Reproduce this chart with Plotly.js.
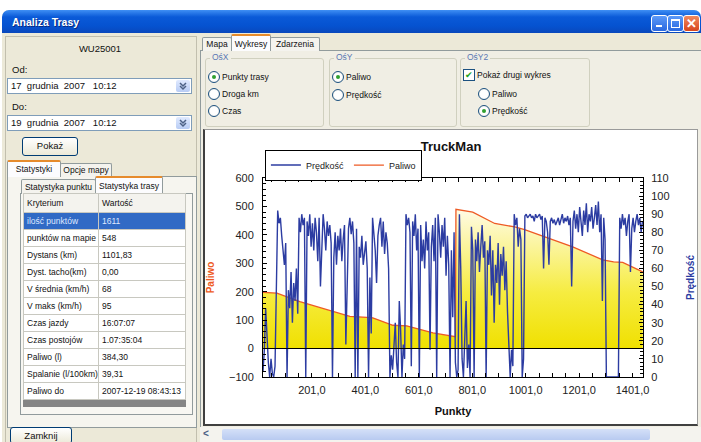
<!DOCTYPE html>
<html><head><meta charset="utf-8">
<script src="https://cdn.plot.ly/plotly-3.0.1.min.js"></script>
<style>
body{margin:0;width:701px;height:442px;overflow:hidden;background:#fff;font-family:"Liberation Sans",Arial,sans-serif;font-size:9.5px;color:#111;position:relative}
.a{position:absolute;white-space:nowrap}
#win{left:2px;top:10px;width:699px;height:432px;background:#ece9d8;border-radius:7px 7px 0 0;overflow:hidden}
#tb{left:2px;top:10px;width:699px;height:23px;border-radius:7px 7px 0 0;background:linear-gradient(#3f8ff4,#0a5ad8 30%,#0552d0 70%,#0a48bc)}
#tt{left:12px;top:16px;color:#fff;font-weight:bold;font-size:10.5px;text-shadow:1px 1px #0a2a80}
.wb{top:15px;width:15px;height:15px;border:1px solid #fff;border-radius:3px;background:linear-gradient(#5c9af8,#2a68e0)}
.combo{height:14px;background:#fff;border:1px solid #7f9db9}
.dd{top:1px;right:1px;width:14px;height:12px;background:linear-gradient(#e0eaff,#b8ccf4);border-radius:2px}
.btn{border:1px solid #003c74;border-radius:3px;background:linear-gradient(#ffffff,#ece9d8);text-align:center;line-height:16px}
.tab{border:1px solid #919b9c;border-bottom:none;background:#f4f3ee;text-align:center;border-radius:2px 2px 0 0;font-size:8.5px}
.sel{background:#fcfcfe;border-top:2px solid #e68b2c}
.grp{border:1px solid #d0d0bf;border-radius:3px}
.gl{color:#5a78b4;background:#f0eee4;padding:0 2px;font-size:8.5px}
.rt{font-size:8.5px}
.rad{width:10px;height:10px;border:1px solid #1c5180;border-radius:50%;background:radial-gradient(#fff 50%,#dcdcd4)}
.rad.on::after{content:"";position:absolute;left:3px;top:3px;width:4px;height:4px;border-radius:50%;background:#30a030}
table{border-collapse:collapse;font-size:8.5px}
td{border:1px solid #c8c8c0;height:16px;padding:0 0 0 3px;background:#fff;white-space:nowrap;overflow:hidden}
tr.hs td{background:#316ac5;color:#dfe8ff}
tr.hd td{background:#f4f3ee;height:18px}
</style>
</head><body>
<div class="a" id="win"></div>
<div class="a" id="tb"></div>
<div class="a" id="tt">Analiza Trasy</div>
<div class="a wb" style="left:651px"><div class="a" style="left:4px;top:9px;width:6px;height:2px;background:#fff"></div></div>
<div class="a wb" style="left:667px"><div class="a" style="left:3px;top:3px;width:7px;height:6px;border:1px solid #fff;border-top-width:2px"></div></div>
<div class="a wb" style="left:683px;background:linear-gradient(#f08a60,#d8461c);color:#fff;font-weight:bold;font-size:13px;line-height:15px;text-align:center">✕</div>

<!-- left panel -->
<div class="a" style="left:5px;top:36px;width:190px;height:406px;border:1px solid #c2bfae;border-bottom:none"></div>
<div class="a" style="left:0;top:43px;width:200px;text-align:center">WU25001</div>
<div class="a" style="left:12px;top:64px">Od:</div>
<div class="a combo" style="left:7px;top:78px;width:183px"><span class="a" style="left:3px;top:1px">17 &nbsp;grudnia &nbsp;2007 &nbsp; 10:12</span>
 <div class="a dd"><svg width="14" height="12"><polyline points="4,3 7,6 10,3" fill="none" stroke="#4d6185" stroke-width="1.5"/><polyline points="4,6 7,9 10,6" fill="none" stroke="#4d6185" stroke-width="1.5"/></svg></div></div>
<div class="a" style="left:12px;top:101px">Do:</div>
<div class="a combo" style="left:7px;top:115px;width:183px"><span class="a" style="left:3px;top:1px">19 &nbsp;grudnia &nbsp;2007 &nbsp; 10:12</span>
 <div class="a dd"><svg width="14" height="12"><polyline points="4,3 7,6 10,3" fill="none" stroke="#4d6185" stroke-width="1.5"/><polyline points="4,6 7,9 10,6" fill="none" stroke="#4d6185" stroke-width="1.5"/></svg></div></div>
<div class="a btn" style="left:22px;top:137px;width:54px;height:17px">Pokaż</div>

<div class="a" style="left:7px;top:176px;width:188px;height:250px;border:1px solid #919b9c;background:#f6f5ef"></div>
<div class="a tab sel" style="left:7px;top:160px;width:52px;height:15px;line-height:15px">Statystyki</div>
<div class="a tab" style="left:60px;top:163px;width:50px;height:13px;line-height:13px">Opcje mapy</div>
<div class="a" style="left:20px;top:193px;width:171px;height:220px;border:1px solid #919b9c;background:#f8f7f2"></div>
<div class="a tab" style="left:21px;top:179px;width:73px;height:14px;line-height:14px">Statystyka punktu</div>
<div class="a tab sel" style="left:95px;top:176px;width:66px;height:15px;line-height:16px">Statystyka trasy</div>
<div class="a" style="left:23px;top:193px">
<table style="width:163px;table-layout:fixed">
<tr class="hd"><td style="width:71px">Kryterium</td><td>Wartość</td></tr>
<tr class="hs"><td>ilość punktów</td><td>1611</td></tr>
<tr><td>punktów na mapie</td><td>548</td></tr>
<tr><td>Dystans (km)</td><td>1101,83</td></tr>
<tr><td>Dyst. tacho(km)</td><td>0,00</td></tr>
<tr><td>V średnia (km/h)</td><td>68</td></tr>
<tr><td>V maks (km/h)</td><td>95</td></tr>
<tr><td>Czas jazdy</td><td>16:07:07</td></tr>
<tr><td>Czas postojów</td><td>1.07:35:04</td></tr>
<tr><td>Paliwo (l)</td><td>384,30</td></tr>
<tr><td>Spalanie (l/100km)</td><td>39,31</td></tr>
<tr><td>Paliwo do</td><td>2007-12-19 08:43:13</td></tr>
</table>
<div style="width:163px;height:7px;background:#858585"></div>
</div>
<div class="a btn" style="left:10px;top:427px;width:60px;height:15px;line-height:15px">Zamknij</div>

<!-- right panel -->
<div class="a" style="left:200px;top:50px;width:500px;height:392px;border:1px solid #919b9c;background:#f0eee4"></div>
<div class="a tab" style="left:202px;top:37px;width:28px;height:13px;line-height:13px">Mapa</div>
<div class="a tab sel" style="left:231px;top:34px;width:38px;height:15px;line-height:16px">Wykresy</div>
<div class="a tab" style="left:270px;top:37px;width:48px;height:13px;line-height:13px">Zdarzenia</div>

<div class="a grp" style="left:205px;top:58px;width:117px;height:67px"></div>
<div class="a gl" style="left:210px;top:52px">OśX</div>
<div class="a rad on" style="left:208px;top:71px"></div><div class="a rt" style="left:222px;top:72px">Punkty trasy</div>
<div class="a rad" style="left:208px;top:88px"></div><div class="a rt" style="left:222px;top:89px">Droga km</div>
<div class="a rad" style="left:208px;top:105px"></div><div class="a rt" style="left:222px;top:106px">Czas</div>

<div class="a grp" style="left:329px;top:58px;width:126px;height:67px"></div>
<div class="a gl" style="left:334px;top:52px">OśY</div>
<div class="a rad on" style="left:332px;top:71px"></div><div class="a rt" style="left:346px;top:72px">Paliwo</div>
<div class="a rad" style="left:332px;top:89px"></div><div class="a rt" style="left:346px;top:90px">Prędkość</div>

<div class="a grp" style="left:460px;top:58px;width:128px;height:67px"></div>
<div class="a gl" style="left:465px;top:52px">OśY2</div>
<div class="a" style="left:463px;top:69px;width:10px;height:10px;border:1px solid #1c5180;background:#fff;color:#21a121;font-size:9px;line-height:10px;text-align:center">✔</div>
<div class="a rt" style="left:477px;top:70px">Pokaż drugi wykres</div>
<div class="a rad" style="left:478px;top:88px"></div><div class="a rt" style="left:492px;top:89px">Paliwo</div>
<div class="a rad on" style="left:478px;top:105px"></div><div class="a rt" style="left:492px;top:106px">Prędkość</div>

<div class="a" style="left:203px;top:129px;width:492px;height:294px;background:#fff;border:1px solid #9a9a9a;border-left:2px solid #404040;border-bottom:2px solid #404040"></div>
<div class="a" id="chart" style="left:205px;top:130px;width:492px;height:293px"></div>

<div class="a" style="left:200px;top:427px;width:501px;height:15px;background:#f4f3ee"></div>
<div class="a" style="left:203px;top:428px;color:#4d6185;font-weight:bold;font-size:10px">&lt;</div>
<div class="a" style="left:222px;top:429px;width:428px;height:11px;background:linear-gradient(#d4e0f8,#b8caf0);border-radius:2px"></div>

<script>
// Paliwo (fuel, litres) — left axis
const fuelPoints = [18, 70, 156, 280, 343, 407, 429, 504, 556, 654, 717, 738, 740, 803, 885, 960, 997, 1065, 1177, 1289, 1330, 1364, 1439];
const fuelLitres = [198, 195, 165, 130, 113, 110, 108, 82, 80, 55, 45, 42, 490, 480, 440, 428, 418, 395, 358, 312, 305, 303, 270];

// Prędkość (speed, km/h) — right axis, one reading every 5 route points from point 18
const speedStart = 18, speedStep = 5;
const speedKmh = [
 3, 15, 38, 22, 8, 0, 10, 2, 0, 6,
 45, 92, 85, 88, 78, 70, 62, 74, 0, 48,
 38, 58, 30, 52, 42, 60, 35, 88, 80, 90,
 84, 88, 0, 86, 78, 90, 72, 85, 70, 88,
 80, 64, 88, 50, 76, 90, 82, 70, 86, 78,
 84, 74, 0, 66, 80, 62, 78, 70, 82, 64,
 76, 84, 18, 60, 82, 88, 79, 86, 74, 0,
 82, 0, 72, 66, 78, 62, 70, 75, 60, 0,
 55, 24, 88, 80, 70, 52, 78, 84, 88, 72,
 86, 68, 80, 74, 60, 0, 12, 4, 22, 30,
 8, 0, 42, 26, 0, 18, 10, 90, 84, 88,
 80, 6, 86, 78, 90, 70, 82, 0, 84, 64,
 76, 60, 86, 70, 80, 15, 72, 84, 64, 88,
 0, 90, 80, 66, 84, 72, 88, 56, 78, 62,
 0, 70, 33, 80, 8, 0, 4, 90, 60, 10,
 0, 24, 42, 5, 18, 0, 83, 70, 0, 76,
 64, 80, 58, 72, 84, 66, 75, 0, 70, 62,
 78, 45, 70, 30, 62, 52, 74, 40, 68, 56,
 72, 48, 64, 36, 12, 0, 15, 6, 90, 84,
 88, 72, 82, 76, 0, 10, 89, 90, 88, 89,
 90, 88, 89, 86, 90, 88, 89, 90, 87, 89,
 60, 88, 86, 80, 62, 86, 88, 85, 87, 84,
 86, 88, 84, 87, 90, 85, 88, 86, 89, 84,
 88, 50, 86, 92, 82, 90, 80, 94, 86, 78,
 92, 84, 96, 80, 90, 86, 94, 82, 88, 95,
 84, 97, 80, 90, 42, 88, 76, 0, 0, 0,
 0, 0, 0, 0, 0, 0, 0, 88, 82, 90,
 84, 88, 78, 86, 90, 58, 82, 88, 80, 86,
 90, 84, 88, 80, 86
];
const speedPoints = speedKmh.map((v, i) => speedStart + i * speedStep);

const xTickVals = [201, 401, 601, 801, 1001, 1201, 1401];
const xTickText = ['201,0', '401,0', '601,0', '801,0', '1001,0', '1201,0', '1401,0'];

const fuelColor = '#ee5a24', speedColor = '#2c3ca2';
const fuelFill = {
  x: fuelPoints, y: fuelLitres, name: 'Paliwo', type: 'scatter', mode: 'lines',
  line: {width: 0}, fill: 'tozeroy', showlegend: false,
  fillgradient: {type: 'vertical', start: 0, stop: 490,
    colorscale: [[0, '#f0e000'], [0.4, '#f6ec40'], [1, '#fffbe6']]},
  hoverinfo: 'skip'
};
const fuelLine = {
  x: fuelPoints, y: fuelLitres, name: 'Paliwo', type: 'scatter', mode: 'lines',
  line: {color: fuelColor, width: 1.3}, legendrank: 2, hoverinfo: 'skip'
};
const speedTrace = {
  x: speedPoints, y: speedKmh, name: 'Prędkość', type: 'scatter', mode: 'lines',
  yaxis: 'y2', line: {color: speedColor, width: 1.4}, legendrank: 1, hoverinfo: 'skip'
};

const axisBase = {showline: true, linecolor: '#000', linewidth: 1, showgrid: false, tickcolor: '#000', ticks: 'inside'};
const layout = {
  width: 492, height: 293,
  margin: {l: 58, r: 54, t: 48, b: 46},
  paper_bgcolor: 'rgba(0,0,0,0)', plot_bgcolor: '#fff',
  font: {family: 'Liberation Sans, Arial, sans-serif', size: 11, color: '#222'},
  title: {text: '<b>TruckMan</b>', font: {size: 13, color: '#111'}, x: 0.5, xref: 'container', y: 0.945, yref: 'container', yanchor: 'middle'},
  showlegend: true,
  legend: {orientation: 'h', x: 0.005, xanchor: 'left', y: 1.065, yanchor: 'middle', bordercolor: '#000', borderwidth: 1,
    bgcolor: '#fff', font: {size: 9, color: '#222'}, itemwidth: 30, tracegroupgap: 0},
  xaxis: Object.assign({}, axisBase, {
    range: [18, 1440], tickmode: 'array', tickvals: xTickVals, ticktext: xTickText, ticklen: 4,
    mirror: 'allticks', zeroline: false, ticklabelstandoff: 3,
    minor: {tickmode: 'linear', tick0: 1, dtick: 50, ticks: 'inside', ticklen: 3, tickcolor: '#000'},
    title: {text: '<b>Punkty</b>', font: {size: 11, color: '#111'}, standoff: 12}
  }),
  yaxis: Object.assign({}, axisBase, {
    range: [-100, 600], dtick: 100, ticklen: 4, ticklabelstandoff: 6,
    minor: {dtick: 20, ticks: 'inside', ticklen: 3, tickcolor: '#000'},
    zeroline: true, zerolinecolor: '#000', zerolinewidth: 1.2, zerolinelayer: 'above traces',
    title: {text: '<b>Paliwo</b>', font: {size: 10, color: fuelColor}, standoff: 12}
  }),
  yaxis2: Object.assign({}, axisBase, {
    range: [0, 110], dtick: 10, ticklen: 4, overlaying: 'y', side: 'right', zeroline: false, ticklabelstandoff: 5,
    minor: {dtick: 2, ticks: 'inside', ticklen: 3, tickcolor: '#000'},
    title: {text: '<b>Prędkość</b>', font: {size: 10, color: speedColor}, standoff: 18}
  })
};
Plotly.newPlot('chart', [fuelFill, fuelLine, speedTrace], layout, {staticPlot: true, displayModeBar: false});
</script>
</body></html>
